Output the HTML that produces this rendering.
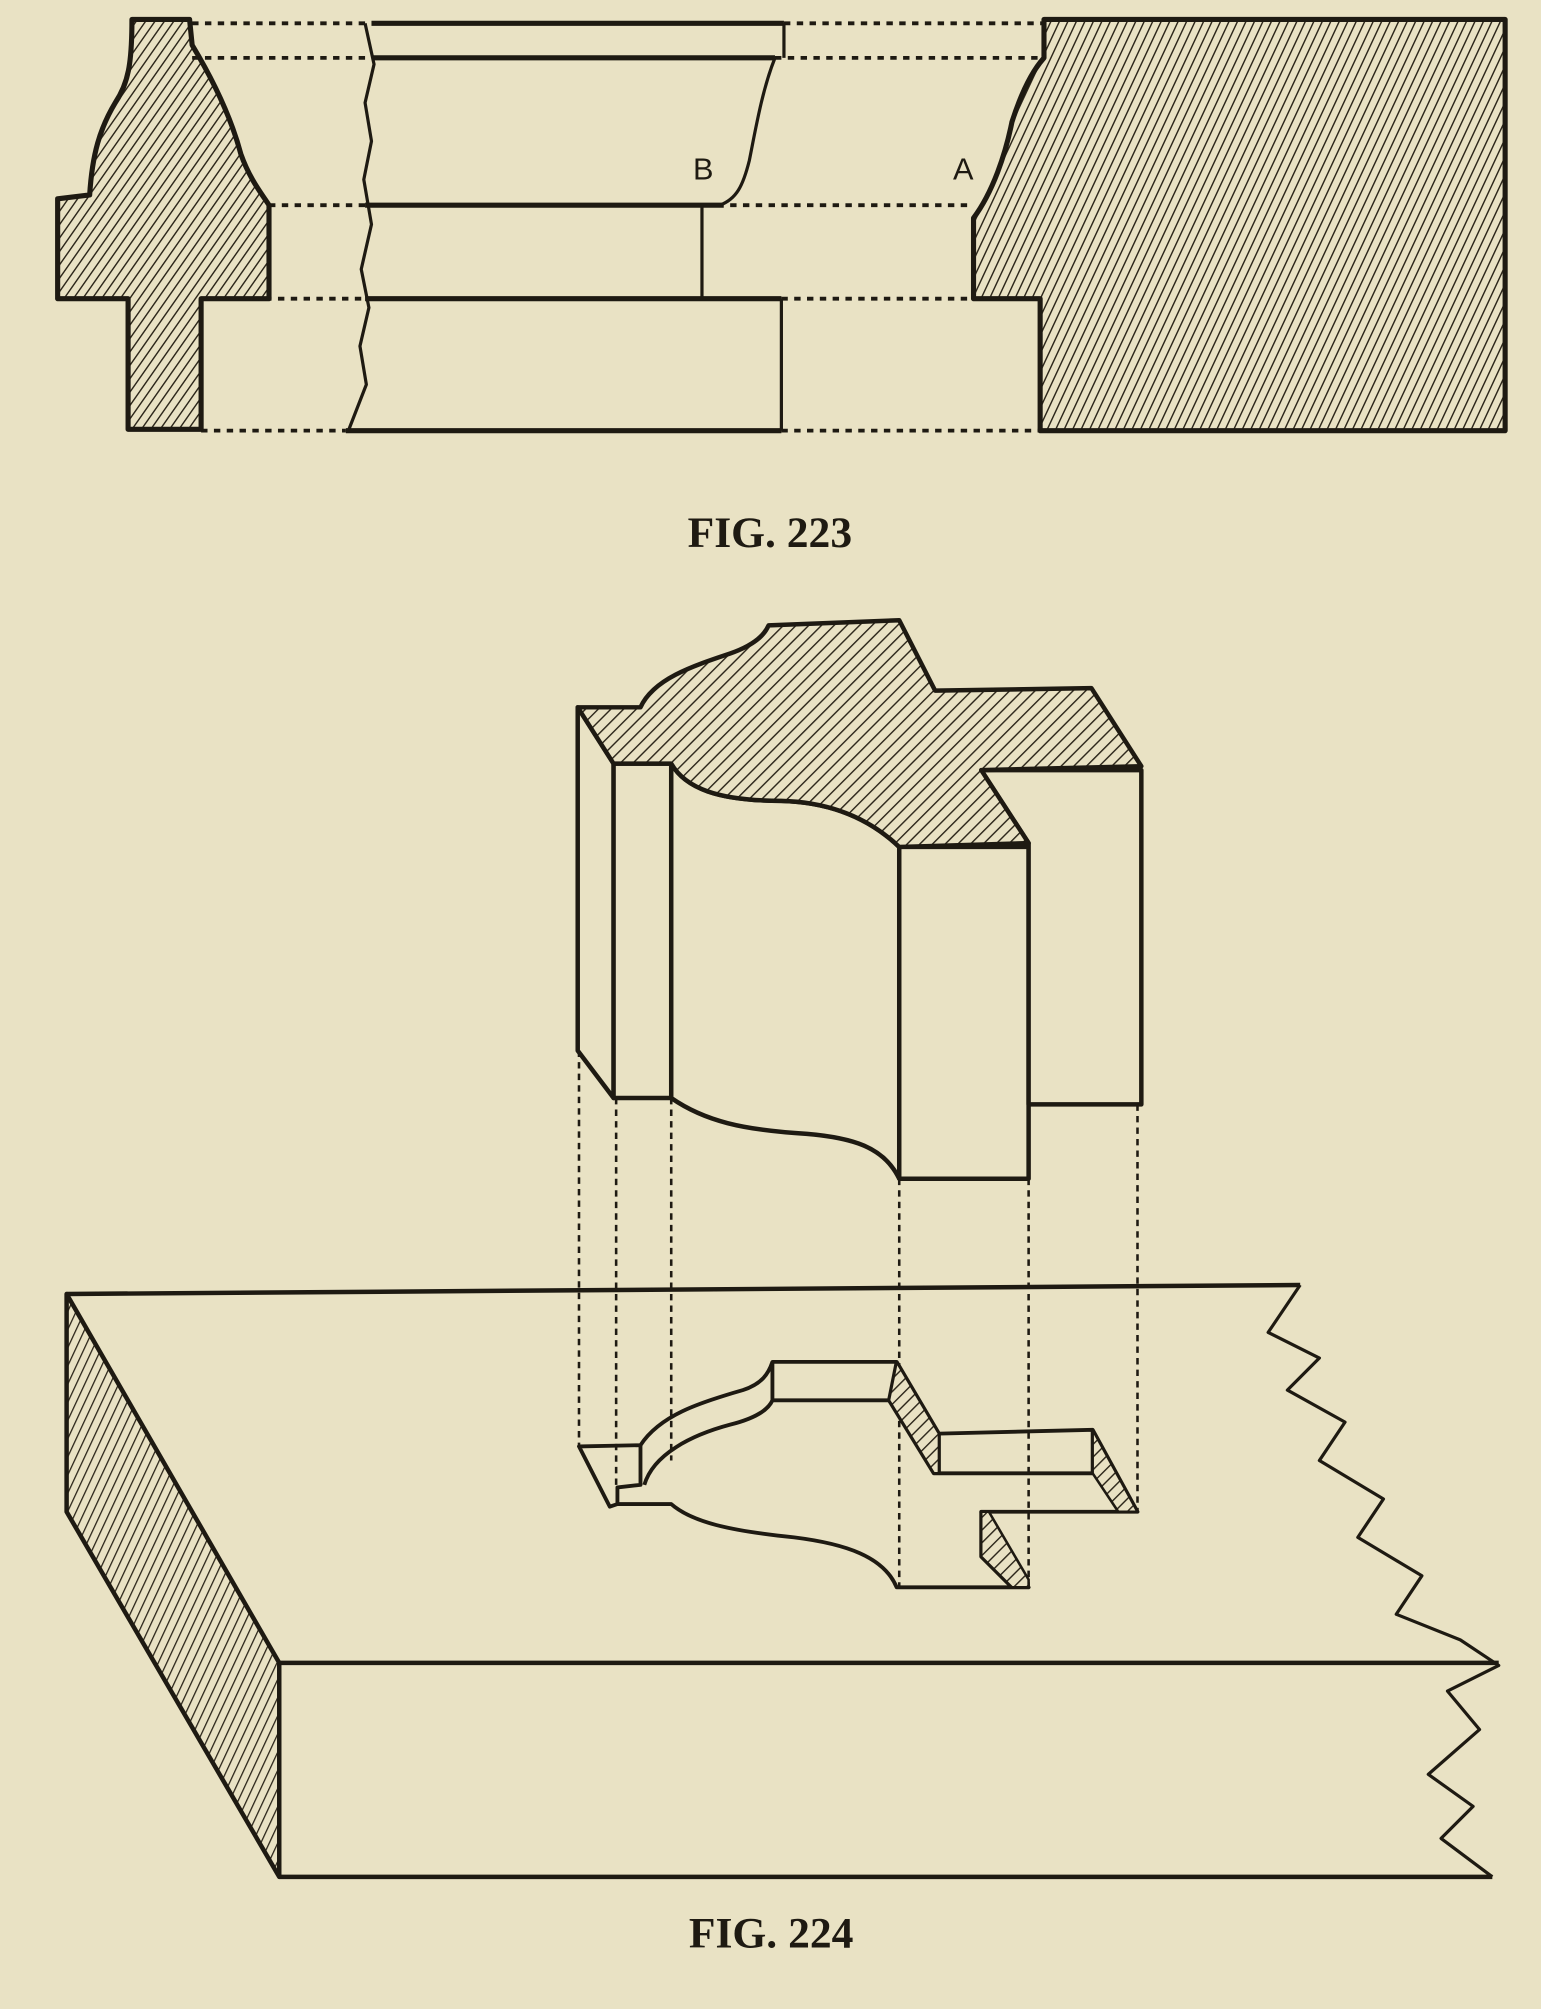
<!DOCTYPE html>
<html><head><meta charset="utf-8"><style>
html,body{margin:0;padding:0;background:#e9e2c4;}
svg{display:block}
</style></head><body>
<svg width="1541" height="2009" viewBox="0 0 1203 1568" xmlns="http://www.w3.org/2000/svg">
<defs>
<pattern id="h1" width="6" height="6" patternUnits="userSpaceOnUse" patternTransform="rotate(35)">
<rect width="6" height="6" fill="#e9e2c4"/><line x1="0" y1="0" x2="0" y2="6" stroke="#2a2418" stroke-width="2.2"/></pattern>
<pattern id="h2" width="6" height="6" patternUnits="userSpaceOnUse" patternTransform="rotate(25)">
<rect width="6" height="6" fill="#e9e2c4"/><line x1="0" y1="0" x2="0" y2="6" stroke="#2a2418" stroke-width="2.2"/></pattern>
<pattern id="h3" width="7" height="7" patternUnits="userSpaceOnUse" patternTransform="rotate(45)">
<rect width="7" height="7" fill="#e9e2c4"/><line x1="0" y1="0" x2="0" y2="7" stroke="#2a2418" stroke-width="2.2"/></pattern>
<pattern id="h4" width="6" height="6" patternUnits="userSpaceOnUse" patternTransform="rotate(25)">
<rect width="6" height="6" fill="#e9e2c4"/><line x1="0" y1="0" x2="0" y2="6" stroke="#2a2418" stroke-width="2"/></pattern>
</defs>
<rect width="1203" height="1568" fill="#e9e2c4"/>
<g fill="none" stroke="#1e1a12" stroke-linejoin="round">
<!-- FIG 223 -->
<path d="M103,15 L148,15 L150,35 C165,60 180,90 188,120 C195,140 205,152 210,160 L210,233 L157,233 L157,335 L100,335 L100,233 L45,233 L45,155 L70,152 C72,120 78,100 90,80 C100,65 103,50 103,15 Z" fill="url(#h1)" stroke-width="4"/>
<path d="M815,15 L1175,15 L1175,336 L812,336 L812,233 L760,233 L760,170 C775,150 785,120 790,95 C798,70 806,55 815,45 Z" fill="url(#h2)" stroke-width="4"/>
<g stroke-width="3" stroke-dasharray="5,5">
<line x1="150" y1="18" x2="290" y2="18"/><line x1="612" y1="18" x2="815" y2="18"/>
<line x1="150" y1="45" x2="290" y2="45"/><line x1="605" y1="45" x2="812" y2="45"/>
<line x1="210" y1="160" x2="285" y2="160"/><line x1="570" y1="160" x2="760" y2="160"/>
<line x1="157" y1="233" x2="285" y2="233"/><line x1="610" y1="233" x2="760" y2="233"/>
<line x1="157" y1="336" x2="270" y2="336"/><line x1="610" y1="336" x2="812" y2="336"/>
</g>
<g stroke-width="4">
<line x1="290" y1="18" x2="612" y2="18"/><line x1="290" y1="45" x2="605" y2="45"/>
<line x1="285" y1="160" x2="565" y2="160"/><line x1="285" y1="233" x2="610" y2="233"/>
<line x1="270" y1="336" x2="610" y2="336"/>
</g>
<g stroke-width="2.5">
<line x1="612" y1="18" x2="612" y2="45"/>
<path d="M605,45 C595,70 590,100 585,125 C580,145 575,155 562,160"/>
<line x1="548" y1="160" x2="548" y2="233"/>
<line x1="610" y1="233" x2="610" y2="336"/>
<path d="M285,18 L292,50 L285,80 L290,110 L284,140 L290,175 L282,210 L288,240 L281,270 L286,300 L272,336"/>
</g>
</g>
<text x="549" y="140" font-family="Liberation Sans,sans-serif" font-size="24" fill="#1e1a12" text-anchor="middle">B</text>
<text x="752" y="140" font-family="Liberation Sans,sans-serif" font-size="24" fill="#1e1a12" text-anchor="middle">A</text>
<text x="601" y="427" font-family="Liberation Serif,serif" font-weight="bold" font-size="34" fill="#1e1a12" text-anchor="middle">FIG. 223</text>

<!-- FIG 224 block -->
<g stroke="#1e1a12" stroke-width="3.5" stroke-linejoin="round" fill="#e9e2c4">
<path d="M451,552 L479,596 L479,857 L451,820 Z"/>
<rect x="479" y="596" width="45" height="261"/>
<path d="M524,596 C535,615 560,625 610,625 C650,626 680,640 702,661 L702,920 C690,895 665,888 630,885 C580,882 550,875 524,857 Z"/>
<rect x="702" y="661" width="101" height="259"/>
<path d="M766,601 L891,601 L891,862 L803,862 L803,658 Z"/>
<path d="M451,552 L500,552 C510,530 540,520 570,510 C590,503 597,495 600,488 L702,484 L730,539 L852,537 L891,598 L766,601 L803,658 L702,661 C680,640 650,626 610,625 C560,625 535,615 524,596 L479,596 Z" fill="url(#h3)"/>
</g>
<g stroke="#1e1a12" stroke-width="2" stroke-dasharray="5,4">
<line x1="452" y1="820" x2="452" y2="1129"/><line x1="481" y1="857" x2="481" y2="1161"/>
<line x1="524" y1="857" x2="524" y2="1140"/><line x1="702" y1="920" x2="702" y2="1239"/>
<line x1="803" y1="920" x2="803" y2="1239"/><line x1="888" y1="862" x2="888" y2="1180"/>
</g>
<!-- board -->
<g stroke="#1e1a12" stroke-width="3.5" stroke-linejoin="round" fill="none">
<path d="M52,1010 L218,1298 L218,1465 L52,1180 Z" fill="url(#h4)"/>
<path d="M52,1010 L1015,1003"/>
<path d="M218,1298 L1170,1298"/>
<path d="M218,1465 L1165,1465"/>
<path d="M1015,1003 L990,1040 L1030,1060 L1005,1085 L1050,1110 L1030,1140 L1080,1170 L1060,1200 L1110,1230 L1090,1260 L1140,1280 L1170,1300 L1130,1320 L1155,1350 L1115,1385 L1150,1410 L1125,1435 L1165,1465" stroke-width="2.5"/>
</g>
<!-- cavity -->
<g stroke="#1e1a12" stroke-width="3" stroke-linejoin="round" fill="none">
<path d="M452,1129 L500,1128 C515,1105 545,1095 580,1085 C595,1080 600,1072 603,1063 L700,1063 L733,1119 L853,1116 L888,1180 L766,1180 L803,1239 L700,1239 C690,1215 660,1205 620,1200 C570,1195 540,1188 524,1174 L482,1174 L476,1176 Z"/>
<path d="M603,1063 L603,1093 L694,1093 L700,1063"/>
<path d="M694,1093 L729,1150 L853,1150 L853,1116"/>
<path d="M733,1119 L733,1150"/>
<path d="M500,1128 L500,1159 L482,1161 L482,1174"/>
<path d="M503,1159 C510,1135 540,1120 570,1112 C590,1107 600,1100 603,1093"/>
<path d="M766,1180 L766,1215 L790,1239"/>
<path d="M700,1063 L733,1119 L733,1150 L729,1150 L694,1093 Z" fill="url(#h3)" stroke-width="2"/>
<path d="M853,1116 L888,1180 L873,1180 L853,1150 Z" fill="url(#h3)" stroke-width="2"/>
<path d="M766,1180 L772,1180 L803,1233 L803,1239 L790,1239 L766,1215 Z" fill="url(#h3)" stroke-width="2"/>
</g>
<text x="602" y="1520" font-family="Liberation Serif,serif" font-weight="bold" font-size="34" fill="#1e1a12" text-anchor="middle">FIG. 224</text>
</svg>
</body></html>
